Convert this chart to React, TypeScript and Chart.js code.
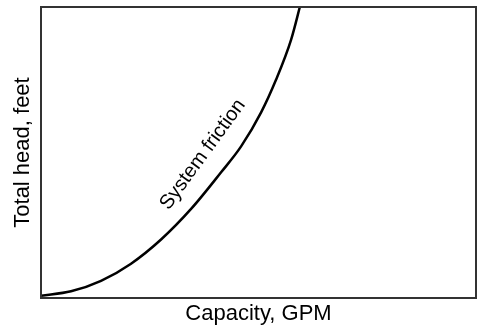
import React, { useEffect, useRef } from "react";
import { Chart, registerables } from "chart.js";

Chart.register(...registerables);

// Capacity (relative units, 0–100) and total head (relative units, 0–100)
const capacity = [0, 6.9, 13.8, 20.7, 27.6, 34.5, 41.4, 46.0, 50.6, 54.0, 57.5, 59.5, 61.1];
const head = [0.8, 2.3, 5.9, 11.8, 20.1, 30.6, 43.2, 52.1, 63.8, 74.9, 88.8, 100, 109.3];

const xTitle = "Capacity, GPM";
const yTitle = "Total head, feet";
const curveLabel = "System friction";
// label anchor in data units
const labelAt = { x: 37.2, y: 49.3 };
const labelAngleDeg = -54;

const FONT = "'Liberation Sans', Arial, Helvetica, sans-serif";

export default function App() {
  const ref = useRef<HTMLCanvasElement | null>(null);

  useEffect(() => {
    const canvas = ref.current;
    if (!canvas) return;

    const boxPlugin = {
      id: "boxAndLabel",
      afterDatasetsDraw(chart: any) {
        const { ctx, chartArea, scales } = chart;
        ctx.save();
        ctx.strokeStyle = "#333";
        ctx.lineWidth = 2;
        ctx.strokeRect(
          chartArea.left,
          chartArea.top,
          chartArea.right - chartArea.left,
          chartArea.bottom - chartArea.top
        );
        const px = scales.x.getPixelForValue(labelAt.x);
        const py = scales.y.getPixelForValue(labelAt.y);
        ctx.translate(px, py);
        ctx.rotate((labelAngleDeg * Math.PI) / 180);
        ctx.fillStyle = "#000";
        ctx.font = `20px ${FONT}`;
        ctx.textAlign = "center";
        ctx.textBaseline = "middle";
        ctx.fillText(curveLabel, 0, 0);
        ctx.restore();
      },
    };

    const chart = new Chart(canvas, {
      type: "line",
      data: {
        datasets: [
          {
            data: capacity.map((c, i) => ({ x: c, y: head[i] })),
            borderColor: "#000",
            borderWidth: 2.5,
            pointRadius: 0,
            cubicInterpolationMode: "monotone",
            fill: false,
          },
        ],
      },
      options: {
        responsive: false,
        animation: false,
        layout: { padding: { top: 7, right: 1, left: 0, bottom: 0 } },
        plugins: {
          legend: { display: false },
          tooltip: { enabled: false },
        },
        scales: {
          x: {
            type: "linear",
            min: 0,
            max: 100,
            grid: { display: false },
            border: { display: false },
            ticks: { display: false },
            title: {
              display: true,
              text: xTitle,
              color: "#000",
              font: { family: FONT, size: 22 },
              padding: { top: 0, bottom: -1 },
            },
            afterFit(scale: any) {
              scale.height = 28;
            },
          },
          y: {
            type: "linear",
            min: 0,
            max: 100,
            grid: { display: false },
            border: { display: false },
            ticks: { display: false },
            title: {
              display: true,
              text: yTitle,
              color: "#000",
              font: { family: FONT, size: 22 },
              padding: { top: 10, bottom: 0 },
            },
            afterFit(scale: any) {
              scale.width = 41;
            },
          },
        },
      },
      plugins: [boxPlugin],
    });

    return () => chart.destroy();
  }, []);

  return (
    <div style={{ position: "fixed", left: 0, top: 0, width: 477, height: 326, background: "#fff" }}>
      <canvas ref={ref} width={477} height={326} style={{ display: "block" }} />
    </div>
  );
}
